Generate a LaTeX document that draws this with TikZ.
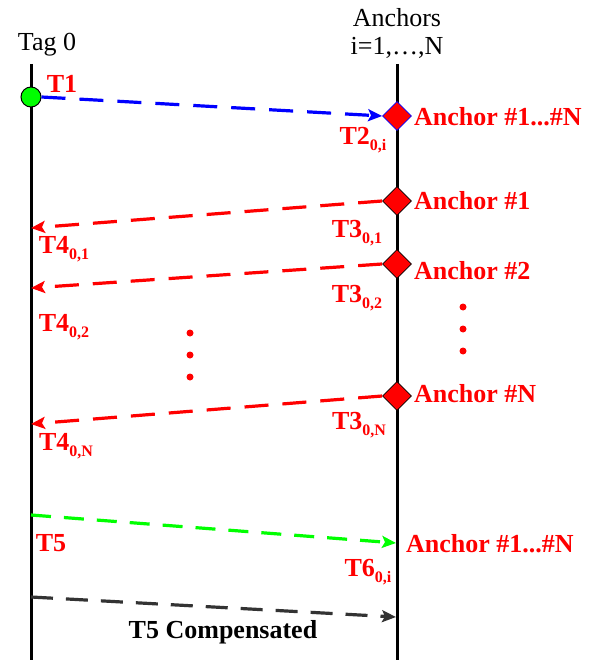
\documentclass[tikz,border=0pt]{standalone}
\usepackage{fontspec}
\setmainfont{Liberation Serif}[BoldFont={Liberation Serif Bold},ItalicFont={Liberation Serif Italic}]
\usetikzlibrary{arrows.meta,shapes.geometric}
\newcommand\lowsub[1]{\raisebox{-0.25em}{\fontsize{16}{16}\selectfont\bfseries #1}}
\begin{document}
\begin{tikzpicture}[x=1pt,y=-1pt,
  plain/.style={font=\fontsize{26}{28}\selectfont, inner sep=0pt},
  lbl/.style={font=\fontsize{26}{28}\selectfont\bfseries, text=red, inner sep=0pt},
  blk/.style={font=\fontsize{26}{28}\selectfont\bfseries, text=black, inner sep=0pt},
  life/.style={line width=3pt, black},
  msg/.style={line width=3.2pt, dash pattern=on 24pt off 14pt,
     -{Stealth[length=14pt,width=12pt,inset=3pt]}},
  anc/.style={diamond, fill=red, draw=black, line width=0.8pt, minimum size=29pt, inner sep=0pt},
  dot/.style={circle, fill=red, minimum size=7pt, inner sep=0pt}
]
\useasboundingbox (0,0) rectangle (597,660);

% lifelines
\coordinate (ltop) at (31,64);
\coordinate (lbot) at (31,660);
\coordinate (rtop) at (397,64);
\coordinate (rbot) at (397,660);
\draw[life] (ltop) -- (lbot);
\draw[life] (rtop) -- (rbot);

% headings
\node[plain] (tagl) at (47,45) {Tag 0};
\node[plain] (ancl) at (397,18) {Anchors};
\node[plain] (ancr) at (397,48) {i=1,…,N};

% tag start
\node[circle, fill=green, draw=black, line width=1pt, minimum size=20pt, inner sep=0pt] (tag) at (31,97) {};

% anchors
\node[anc, draw=blue] (d0) at (397,116) {};
\node[anc] (d1) at (397,201) {};
\node[anc] (d2) at (397,264) {};
\node[anc] (dn) at (397,396) {};

% receive points on tag line
\coordinate (l1) at (31,228);
\coordinate (l2) at (31,288);
\coordinate (ln) at (31,424);

% messages
\draw[msg, blue] (tag.east) -- (d0.west);
\draw[msg, red] (d1.west) -- (l1);
\draw[msg, red] (d2.west) -- (l2);
\draw[msg, red] (dn.west) -- (ln);

\coordinate (g0) at (31,515);
\coordinate (g1) at (396,543);
\coordinate (k0) at (31,597);
\coordinate (k1) at (396,617);
\draw[msg, green, dash pattern=on 20pt off 13pt] (g0) -- (g1);
\draw[msg, black!80, dash pattern=on 22pt off 13pt] (k0) -- (k1);

% labels
\node[lbl] (t1) at (62,84) {T1};
\node[lbl, anchor=west] (a0) at (414,117) {Anchor \#1...\#N};
\node[lbl] (t2) at (363,140) {T2\lowsub{0,i}};

\node[lbl, anchor=west] (a1) at (414,201) {Anchor \#1};
\node[lbl] (t31) at (357,233) {T3\lowsub{0,1}};
\node[lbl] (t41) at (64,249) {T4\lowsub{0,1}};

\node[lbl, anchor=west] (a2) at (414,271) {Anchor \#2};
\node[lbl] (t32) at (357,298) {T3\lowsub{0,2}};
\node[lbl] (t42) at (64,327) {T4\lowsub{0,2}};

\node[lbl, anchor=west] (an) at (414,394) {Anchor \#N};
\node[lbl] (t3n) at (359,425) {T3\lowsub{0,N}};
\node[lbl] (t4n) at (66,446) {T4\lowsub{0,N}};

% ellipsis dots
\node[dot] (ld1) at (190,333) {};
\node[dot] (ld2) at (190,355) {};
\node[dot] (ld3) at (190,377) {};
\node[dot] (rd1) at (463,307) {};
\node[dot] (rd2) at (463,329) {};
\node[dot] (rd3) at (463,351) {};

\node[lbl] (t5) at (51,543) {T5};
\node[lbl, anchor=west] (a6) at (406,544) {Anchor \#1...\#N};
\node[lbl] (t6) at (368,572) {T6\lowsub{0,i}};
\node[blk] (t5c) at (223,632) {T5 Compensated};
\end{tikzpicture}
\end{document}
